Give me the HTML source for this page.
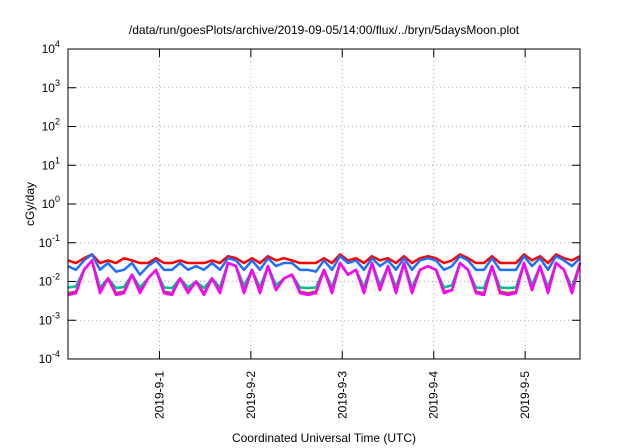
<!DOCTYPE html>
<html><head><meta charset="utf-8"><style>
body{margin:0;background:#fff}
svg{display:block;font-family:"Liberation Sans",sans-serif}
</style></head><body>
<svg id="c" width="640" height="448"></svg>
<script>
const dates=["2019-9-1","2019-9-2","2019-9-3","2019-9-4","2019-9-5"];
const yExps=[-4,-3,-2,-1,0,1,2,3,4];
const magenta=[.0045,.005,.02,.035,.005,.012,.0045,.005,.015,.005,.012,.02,.005,.0045,.012,.005,.01,.0045,.012,.005,.03,.025,.005,.02,.005,.025,.006,.012,.015,.005,.0045,.005,.02,.005,.03,.015,.02,.005,.03,.006,.025,.005,.03,.005,.02,.025,.02,.005,.006,.03,.02,.005,.0045,.025,.005,.0045,.005,.03,.006,.025,.005,.03,.02,.005,.03];
const teal=[.007,.0075,.02,.035,.007,.012,.0068,.0072,.015,.007,.012,.02,.007,.0068,.012,.007,.01,.0068,.012,.007,.03,.025,.0075,.02,.007,.025,.008,.012,.015,.007,.0068,.007,.02,.007,.03,.015,.02,.007,.03,.008,.025,.007,.03,.007,.02,.025,.02,.007,.008,.03,.02,.007,.0068,.025,.007,.0068,.007,.03,.008,.025,.007,.03,.02,.007,.03];
const brown=[.005,.0055,.02,.035,.0055,.012,.005,.0055,.015,.0055,.012,.02,.0055,.005,.012,.0055,.01,.005,.012,.0055,.03,.025,.0055,.02,.0055,.025,.006,.012,.015,.0055,.005,.0055,.02,.0055,.03,.015,.02,.0055,.03,.006,.025,.0055,.03,.0055,.02,.025,.02,.0055,.006,.03,.02,.0055,.005,.025,.0055,.005,.0055,.03,.006,.025,.0055,.03,.02,.0055,.03];
const red=[.035,.03,.04,.05,.03,.035,.03,.04,.035,.03,.03,.04,.03,.03,.035,.03,.03,.03,.035,.03,.045,.04,.03,.04,.03,.045,.035,.04,.035,.03,.03,.03,.04,.03,.05,.035,.04,.03,.045,.035,.04,.03,.045,.03,.04,.045,.04,.03,.035,.05,.04,.03,.03,.045,.03,.03,.03,.05,.035,.045,.03,.05,.04,.035,.045];
const blue=[.025,.02,.035,.05,.02,.03,.018,.02,.03,.015,.025,.035,.02,.02,.03,.02,.025,.02,.03,.02,.04,.035,.02,.035,.02,.04,.025,.03,.03,.02,.02,.018,.035,.02,.045,.03,.035,.02,.04,.025,.035,.02,.04,.02,.035,.04,.035,.02,.025,.045,.035,.02,.02,.04,.02,.02,.02,.045,.025,.04,.02,.045,.035,.025,.04];
const L=68,R=580,T=49,B=359;
const NS="http://www.w3.org/2000/svg",svg=document.getElementById('c');
function el(t,a,p){const e=document.createElementNS(NS,t);for(const k in a)e.setAttribute(k,a[k]);(p||svg).appendChild(e);return e;}
const yS=v=>B-(Math.log10(v)+4)*(B-T)/8;
const day0=-1.0,day1=4.6;
const xD=d=>L+(d-day0)*(R-L)/(day1-day0);
const xI=(i,n)=>xD(day0+i*(day1-day0)/(n-1));
const t=el('text',{x:324,y:34,'text-anchor':'middle','font-size':12});t.textContent="/data/run/goesPlots/archive/2019-09-05/14:00/flux/../bryn/5daysMoon.plot";


yExps.forEach(e=>{const y=yS(Math.pow(10,e));
 if(e>-4&&e<4){const g=el('line',{x1:L,x2:R,y1:y,y2:y,stroke:'#aaa','stroke-dasharray':'1,3','stroke-width':1});}
 el('line',{x1:L,x2:L+8,y1:y,y2:y,stroke:'#000'});el('line',{x1:R-8,x2:R,y1:y,y2:y,stroke:'#000'});
 const tx=el('text',{x:L-8,y:y+4,'text-anchor':'end','font-size':12});
 
 
 tx.appendChild(document.createTextNode('10'));const s=el('tspan',{dy:-6,'font-size':9},tx);s.textContent=e;});
dates.forEach((d,i)=>{const x=xD(i);
 const g=el('line',{x1:x,x2:x,y1:T,y2:B,stroke:'#aaa','stroke-dasharray':'1,3'});
 el('line',{x1:x,x2:x,y1:B,y2:B-8,stroke:'#000'});el('line',{x1:x,x2:x,y1:T,y2:T+8,stroke:'#000'});
 const tx=el('text',{x:0,y:0,'text-anchor':'end','font-size':12,transform:`translate(${x+4},371) rotate(-90)`});tx.textContent=d;
 
 });
[[red,'#ff0000'],[teal,'#00c090'],[brown,'#a05050'],[blue,'#1e6eff'],[magenta,'#ff00ff']].forEach(([arr,c])=>{
 const p=el('polyline',{points:arr.map((v,i)=>xI(i,arr.length)+','+yS(v)).join(' '),fill:'none',stroke:c,'stroke-width':2.5,'stroke-linejoin':'round'});
 
 });
const f=el('rect',{x:L,y:T,width:R-L,height:B-T,fill:'none',stroke:'#000','stroke-width':1});


const yl=el('text',{x:0,y:0,'text-anchor':'middle','font-size':12,transform:'translate(34,204) rotate(-90)'});yl.textContent='cGy/day';


const xl=el('text',{x:324,y:442,'text-anchor':'middle','font-size':12});xl.textContent='Coordinated Universal Time (UTC)';


</script>
</body></html>
